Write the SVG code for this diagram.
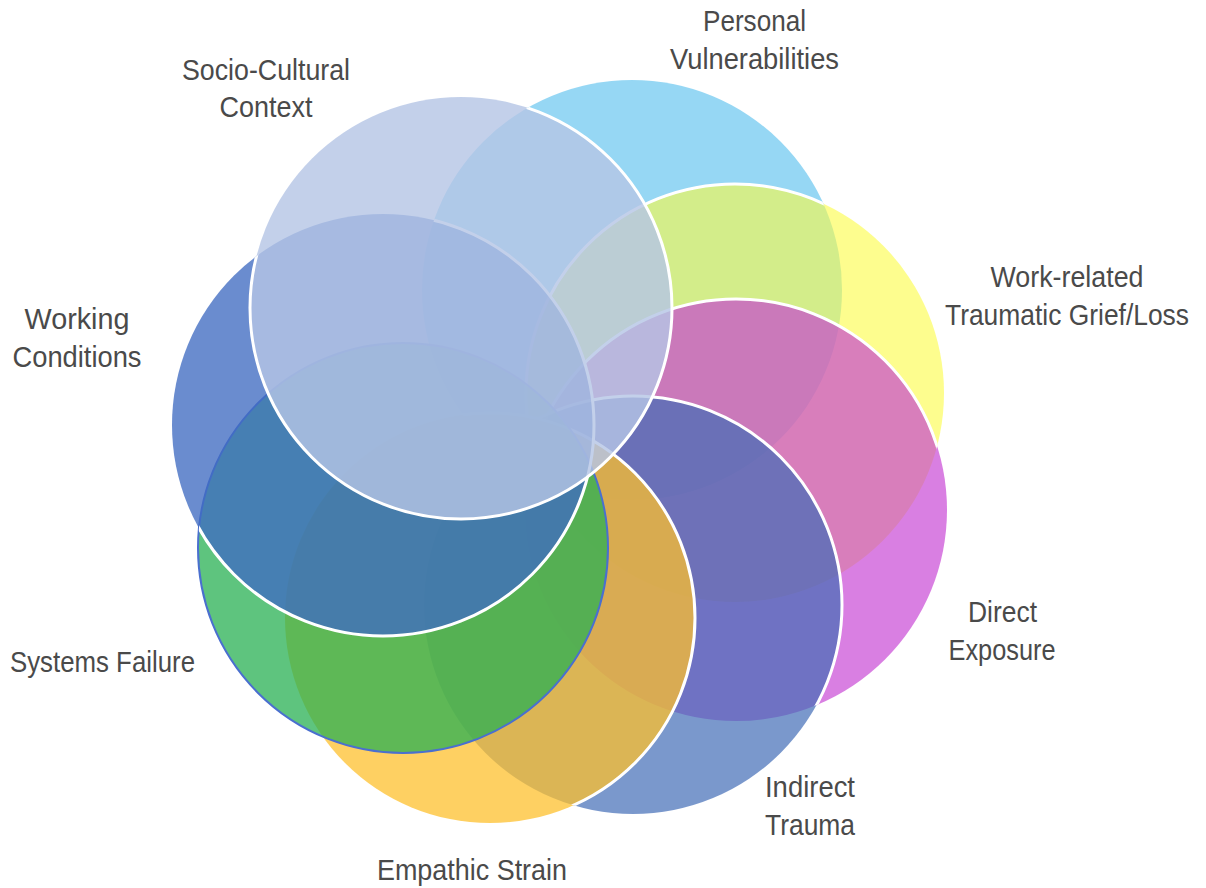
<svg xmlns="http://www.w3.org/2000/svg" xmlns:xlink="http://www.w3.org/1999/xlink" width="1206" height="888" viewBox="0 0 1206 888">
  <style>
    .lbl { font-family: "Liberation Sans Narrow", "Liberation Sans", Arial, sans-serif; font-size: 30px; fill: #4a4a4a; text-anchor: middle; }
    .end { text-anchor: end; }
    .ring { fill: none; stroke: #ffffff; stroke-width: 3; }
    .pv { fill: #6ac6ef; fill-opacity: 0.7; }
    .wr { fill: #fcfc43; fill-opacity: 0.6; }
    .de { fill: #c53dd3; fill-opacity: 0.66; }
    .it { fill: #416cb6; fill-opacity: 0.7; }
    .es { fill: #fec02b; fill-opacity: 0.74; }
    .sf { fill: #28b053; fill-opacity: 0.75; stroke: #4a6fcf; stroke-width: 2; }
    .wc { fill: #406cc2; fill-opacity: 0.78; }
    .sc { fill: #b5c5e5; fill-opacity: 0.81; }
  </style>
  <defs>
    <circle id="c-pv" cx="632" cy="290" r="210"/>
    <circle id="c-wr" cx="735" cy="393" r="209"/>
    <circle id="c-de" cx="736" cy="510" r="211"/>
    <circle id="c-it" cx="633" cy="605" r="209"/>
    <circle id="c-es" cx="490" cy="618" r="205"/>
    <circle id="c-sf" cx="403" cy="548" r="205"/>
    <circle id="c-wc" cx="383" cy="425" r="211"/>
    <circle id="c-sc" cx="461" cy="308" r="211"/>
    <clipPath id="below-wr"><use xlink:href="#c-pv"/></clipPath>
    <clipPath id="below-de"><use xlink:href="#c-pv"/><use xlink:href="#c-wr"/></clipPath>
    <clipPath id="below-it"><use xlink:href="#c-pv"/><use xlink:href="#c-wr"/><use xlink:href="#c-de"/></clipPath>
    <clipPath id="below-es"><use xlink:href="#c-pv"/><use xlink:href="#c-wr"/><use xlink:href="#c-de"/><use xlink:href="#c-it"/></clipPath>
    <clipPath id="below-wc"><use xlink:href="#c-pv"/><use xlink:href="#c-wr"/><use xlink:href="#c-de"/><use xlink:href="#c-it"/><use xlink:href="#c-es"/><use xlink:href="#c-sf"/></clipPath>
    <clipPath id="below-sc"><use xlink:href="#c-pv"/><use xlink:href="#c-wr"/><use xlink:href="#c-de"/><use xlink:href="#c-it"/><use xlink:href="#c-es"/><use xlink:href="#c-sf"/><use xlink:href="#c-wc"/></clipPath>
  </defs>
  <rect x="0" y="0" width="1206" height="888" fill="#ffffff"/>

  <g id="node-personal-vulnerabilities">
    <use xlink:href="#c-pv" class="pv"/>
    <text class="lbl" x="754.5" y="31" textLength="103" lengthAdjust="spacingAndGlyphs">Personal</text>
    <text class="lbl" x="754.5" y="68.5" textLength="169" lengthAdjust="spacingAndGlyphs">Vulnerabilities</text>
  </g>

  <g id="node-work-related">
    <use xlink:href="#c-wr" class="wr"/>
    <use xlink:href="#c-wr" class="ring" clip-path="url(#below-wr)"/>
    <text class="lbl" x="1067" y="287" textLength="153" lengthAdjust="spacingAndGlyphs">Work-related</text>
    <text class="lbl end" x="1189" y="324.5" textLength="244" lengthAdjust="spacingAndGlyphs">Traumatic Grief/Loss</text>
  </g>

  <g id="node-direct-exposure">
    <use xlink:href="#c-de" class="de"/>
    <use xlink:href="#c-de" class="ring" clip-path="url(#below-de)"/>
    <text class="lbl" x="1002.5" y="621.5" textLength="69" lengthAdjust="spacingAndGlyphs">Direct</text>
    <text class="lbl" x="1002" y="660" textLength="107" lengthAdjust="spacingAndGlyphs">Exposure</text>
  </g>

  <g id="node-indirect-trauma">
    <use xlink:href="#c-it" class="it"/>
    <use xlink:href="#c-it" class="ring" clip-path="url(#below-it)"/>
    <text class="lbl" x="810" y="797" textLength="90" lengthAdjust="spacingAndGlyphs">Indirect</text>
    <text class="lbl" x="810" y="835" textLength="90" lengthAdjust="spacingAndGlyphs">Trauma</text>
  </g>

  <g id="node-empathic-strain">
    <use xlink:href="#c-es" class="es"/>
    <use xlink:href="#c-es" class="ring" clip-path="url(#below-es)"/>
    <text class="lbl" x="472" y="880" textLength="190" lengthAdjust="spacingAndGlyphs">Empathic Strain</text>
  </g>

  <g id="node-systems-failure">
    <use xlink:href="#c-sf" class="sf"/>
    <text class="lbl" x="102.5" y="671.5" textLength="185" lengthAdjust="spacingAndGlyphs">Systems Failure</text>
  </g>

  <g id="node-working-conditions">
    <use xlink:href="#c-wc" class="wc"/>
    <use xlink:href="#c-wc" class="ring" clip-path="url(#below-wc)"/>
    <text class="lbl" x="77" y="329" textLength="105" lengthAdjust="spacingAndGlyphs">Working</text>
    <text class="lbl" x="77" y="366.5" textLength="129" lengthAdjust="spacingAndGlyphs">Conditions</text>
  </g>

  <g id="node-socio-cultural-context">
    <use xlink:href="#c-sc" class="sc"/>
    <use xlink:href="#c-sc" class="ring" clip-path="url(#below-sc)"/>
    <text class="lbl" x="266" y="80" textLength="168" lengthAdjust="spacingAndGlyphs">Socio-Cultural</text>
    <text class="lbl" x="266" y="117" textLength="93" lengthAdjust="spacingAndGlyphs">Context</text>
  </g>
</svg>
